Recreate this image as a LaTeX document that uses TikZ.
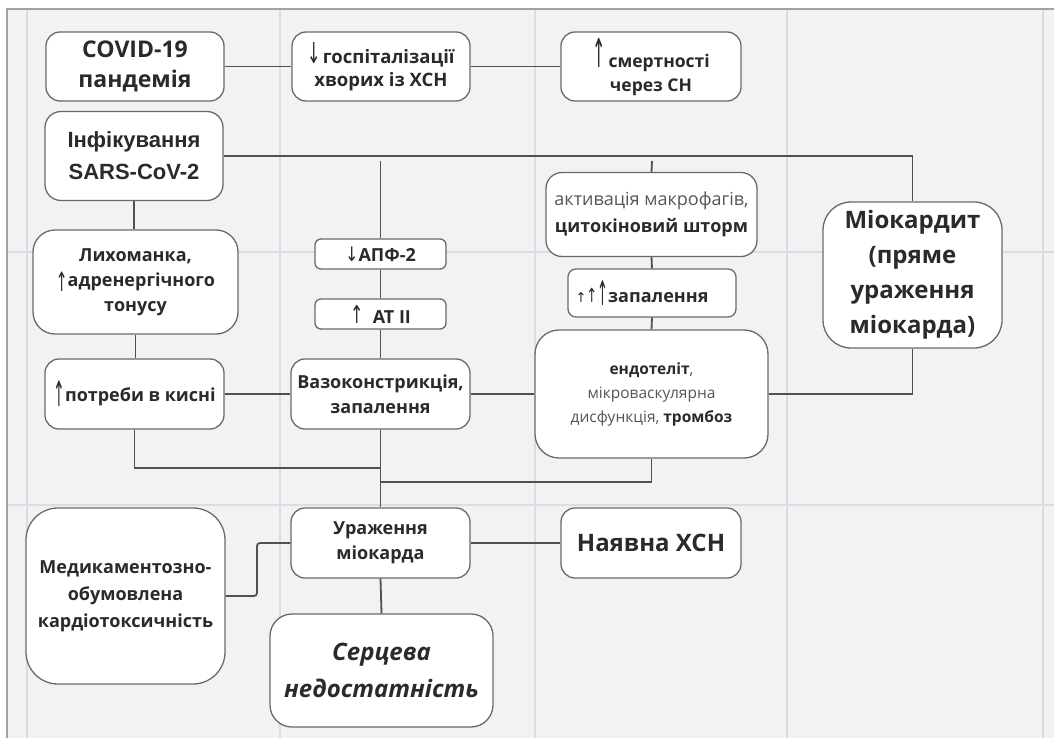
\documentclass[tikz,border=0pt]{standalone}
\usepackage{graphicx}
\usepackage{fontspec}
\setmainfont{Open Sans}
\newfontfamily\arialf{Liberation Sans}
\newfontfamily\arrf{DejaVu Sans}
\newcommand\fsz[2]{\fontsize{#1}{#2}\selectfont}
% [raise]{glyph}{size}{vertical scale}
\newcommand\arw[4][0pt]{\raisebox{#1}{\scalebox{1}[#4]{\arrf\mdseries\fontsize{#3}{#3}\selectfont #2}}}
\definecolor{bg}{HTML}{F1F2F4}
\definecolor{gridc}{HTML}{DCDDE0}
\definecolor{framec}{HTML}{A3A3A3}
\definecolor{boxc}{HTML}{6A6A6A}
\definecolor{linec}{HTML}{505050}
\definecolor{txt}{HTML}{2A2A2A}
\definecolor{txtl}{HTML}{555555}
\tikzset{
  box/.style={draw=boxc, fill=white, line width=1.3pt, align=center, inner sep=0pt,
    text=txt, rounded corners=14pt},
  conn/.style={draw=linec, line width=1.8pt},
  mid/.style={font=\fsz{18}{25}\bfseries},
}
\begin{document}
\begin{tikzpicture}[x=1pt,y=-1pt]
\useasboundingbox (0,0) rectangle (1054,738);
% background and grid
\fill[bg] (7,9) rectangle (1054,738);
\foreach \gx in {27,280,535,787,1043} \draw[gridc, line width=1.5pt] (\gx,10) -- (\gx,738);
\foreach \gy in {252,505} \draw[gridc, line width=1.5pt] (8,\gy) -- (1054,\gy);
\draw[framec, line width=2pt] (7,738) -- (7,9) -- (1054,9);

% nodes
\node[box, minimum width=178, minimum height=69, font=\fsz{23}{30}\bfseries] (covid) at (135,66.5) {COVID-19\\пандемія};
\node[box, minimum width=178, minimum height=69, font=\fsz{18.5}{23}\bfseries] (hosp) at (381,66.5) {\arw{↓}{16}{1.8}\hspace{2pt}госпіталізації\\хворих із ХСН};
\node[box, minimum width=180, minimum height=69, font=\fsz{17.5}{24}\bfseries] (mort) at (651,66.5) {\arw{↑}{16}{2.5}\,смертності\\через СН};
\node[box, minimum width=178, minimum height=89, rounded corners=16pt, font=\arialf\fsz{22}{32}\bfseries] (inf) at (134,156) {Інфікування\\SARS-CoV-2};
\node[box, minimum width=205, minimum height=104, rounded corners=22pt, mid] (fever) at (135.5,282) {Лихоманка,\\\arw[-5pt]{↑}{14}{1.9}адренергічного\\тонусу};
\node[box, minimum width=131, minimum height=30, rounded corners=6pt, mid] (ace) at (380.5,254) {\arw{↓}{16}{1.25}АПФ-2};
\node[box, minimum width=131, minimum height=30, rounded corners=6pt, mid] (at) at (380.5,314) {\arw{↑}{16}{1.55}\ \ AT II};
\node[box, minimum width=179, minimum height=70, mid] (oxy) at (134.5,394) {\arw[-5pt]{↑}{14}{2.5}потреби в кисні};
\node[box, minimum width=179, minimum height=70, mid] (vaso) at (380.5,394) {Вазоконстрикція,\\запалення};
\node[box, minimum width=211, minimum height=84, rounded corners=16pt, font=\fsz{18}{27}] (macro) at (651.5,214.5) {{\color{txtl}активація макрофагів,}\\\textbf{цитокіновий шторм}};
\node[box, minimum width=168, minimum height=48, rounded corners=8pt, mid] (infl) at (652,293) {\hspace*{-6pt}\arw{↑}{13}{1.05}\arw{↑}{13}{1.5}\arw[-3pt]{↑}{13}{2.6}запалення\hspace*{14pt}};
\node[box, minimum width=233, minimum height=128, rounded corners=24pt, font=\fsz{15.5}{24}] (endo) at (651.5,394) {\textbf{ендотеліт}{\color{txtl},}\\{\color{txtl}мікроваскулярна}\\{\color{txtl}дисфункція,} \textbf{тромбоз}};
\node[box, minimum width=179, minimum height=146, rounded corners=28pt, font=\fsz{24}{35}\bfseries] (myo) at (912.5,275) {Міокардит\\(пряме\\ураження\\міокарда)};
\node[box, minimum width=179, minimum height=70, mid] (injury) at (380.5,543) {Ураження\\міокарда};
\node[box, minimum width=180, minimum height=70, font=\fsz{24}{30}\bfseries] (chf) at (651,543) {Наявна ХСН};
\node[box, minimum width=199, minimum height=176, rounded corners=32pt, font=\fsz{18}{27}\bfseries] (drug) at (125.5,596) {Медикаментозно-\\обумовлена\\кардіотоксичність};
\node[box, minimum width=223, minimum height=113, rounded corners=22pt, font=\fsz{24}{37}\bfseries\itshape] (hf) at (381.5,670.5) {Серцева\\недостатність};

% junction coordinates
\coordinate (j1) at (380.5,161);
\coordinate (j2) at (652,161);
\coordinate (m1) at (380.5,468);
\coordinate (m2) at (380.5,482);
\coordinate (bend) at (257,543);

% connectors
\draw[conn] (covid.east) -- (hosp.west);
\draw[conn] (hosp.east) -- (mort.west);
\draw[conn] (inf.east) -| (myo.north);
\draw[conn] (j1) -- (ace.north);
\draw[conn] (j2) -- (macro.north);
\draw[conn] (inf.south) -- (inf.south |- fever.north);
\draw[conn] (fever.south) -- (fever.south |- oxy.north);
\draw[conn] (ace.south) -- (at.north);
\draw[conn] (at.south) -- (vaso.north);
\draw[conn] (oxy.east) -- (vaso.west);
\draw[conn] (vaso.east) -- (endo.west);
\draw[conn] (macro.south) -- (infl.north);
\draw[conn] (infl.south) -- (endo.north);
\draw[conn] (myo.south) |- (endo.east);
\draw[conn] (oxy.south) |- (m1);
\draw[conn] (vaso.south) -- (injury.north);
\draw[conn] (endo.south) |- (m2);
\draw[conn, rounded corners=3pt] (drug.east) -| (bend) -- (injury.west);
\draw[conn] (injury.east) -- (chf.west);
\draw[conn] (injury.south) -- (hf.north);
\end{tikzpicture}
\end{document}
